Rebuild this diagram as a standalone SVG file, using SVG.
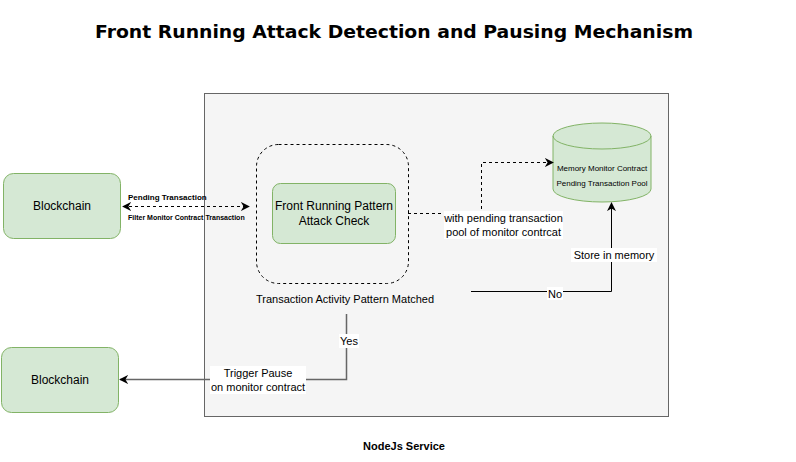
<svg xmlns="http://www.w3.org/2000/svg" width="796" height="462" viewBox="0 0 796 462">
<defs>
<style>
.t{font-family:"Liberation Sans",Arial,sans-serif;fill:#000;}
.green{fill:#d5e8d4;stroke:#82b366;stroke-width:1;}
.lbl{fill:#fff;}
</style>
<marker id="ah" viewBox="0 0 10 10" refX="9" refY="5" markerWidth="9" markerHeight="9" orient="auto-start-reverse" markerUnits="userSpaceOnUse">
<path d="M0,0 L10,5 L0,10 L3,5 Z" fill="#000"/>
</marker>
</defs>
<rect width="796" height="462" fill="#fff"/>
<text x="394" y="38" text-anchor="middle" style="font-family:'DejaVu Sans',Verdana,sans-serif" font-weight="bold" font-size="18" textLength="598" lengthAdjust="spacingAndGlyphs">Front Running Attack Detection and Pausing Mechanism</text>

<g id="nodejs-service">
<rect x="204.5" y="93.5" width="464" height="323" fill="#f5f5f5" stroke="#666"/>
<text class="t" x="404" y="450" text-anchor="middle" font-size="11" font-weight="bold">NodeJs Service</text>
</g>

<g id="blockchain-top">
<rect class="green" x="3.5" y="173.5" width="117" height="65" rx="10"/>
<text class="t" x="62" y="210" text-anchor="middle" font-size="12">Blockchain</text>
</g>

<g id="blockchain-bottom">
<rect class="green" x="1.5" y="347.5" width="117" height="65" rx="10"/>
<text class="t" x="60" y="384" text-anchor="middle" font-size="12">Blockchain</text>
</g>

<g id="pattern-group">
<rect x="256.5" y="144.5" width="152" height="139" rx="22" fill="none" stroke="#000" stroke-dasharray="3,3"/>
</g>

<g id="attack-check">
<rect class="green" x="272.5" y="183.5" width="123" height="60" rx="8"/>
<text class="t" x="334" y="210" text-anchor="middle" font-size="12">Front Running Pattern</text>
<text class="t" x="334" y="225" text-anchor="middle" font-size="12">Attack Check</text>
</g>

<g id="pattern-matched">
<text class="t" x="345" y="303" text-anchor="middle" font-size="11">Transaction Activity Pattern Matched</text>
</g>

<g id="memory-pool">
<path class="green" d="M553,136 A49,13 0 0 1 651,136 L651,189 A49,13 0 0 1 553,189 Z"/>
<path d="M553,136 A49,13 0 0 0 651,136" fill="none" stroke="#82b366"/>
<text class="t" x="602" y="171" text-anchor="middle" font-size="8">Memory Monitor Contract</text>
<text class="t" x="602" y="186" text-anchor="middle" font-size="8">Pending Transaction Pool</text>
</g>

<g id="connectors">
<line x1="123" y1="206.5" x2="249" y2="206.5" stroke="#000" stroke-dasharray="3,3" marker-start="url(#ah)" marker-end="url(#ah)"/>
<text class="t" x="128" y="200" font-size="8" font-weight="bold">Pending Transaction</text>
<text class="t" x="128" y="220" font-size="7" font-weight="bold">Filter Monitor Contract Transaction</text>

<path d="M408,213.5 H481.5 V162.5 H553" fill="none" stroke="#000" stroke-dasharray="3,3" marker-end="url(#ah)"/>
<rect class="lbl" x="444" y="211" width="119" height="28"/>
<text class="t" x="503.5" y="222" text-anchor="middle" font-size="11">with pending transaction</text>
<text class="t" x="503.5" y="236" text-anchor="middle" font-size="11">pool of monitor contrcat</text>

<path d="M471,291.5 H611.5 V203" fill="none" stroke="#000" marker-end="url(#ah)"/>
<rect class="lbl" x="547" y="287" width="16" height="13"/>
<text class="t" x="555" y="298" text-anchor="middle" font-size="11">No</text>
<rect class="lbl" x="571" y="248" width="86" height="14"/>
<text class="t" x="614" y="259" text-anchor="middle" font-size="11">Store in memory</text>

<path d="M346.5,314 V379.5 H120" fill="none" stroke="#666" stroke-width="1.5" marker-end="url(#ah)"/>
<rect class="lbl" x="339" y="334" width="20" height="14"/>
<text class="t" x="349" y="345" text-anchor="middle" font-size="11">Yes</text>
<rect class="lbl" x="210" y="366" width="96" height="28"/>
<text class="t" x="258" y="377" text-anchor="middle" font-size="11">Trigger Pause</text>
<text class="t" x="258" y="391" text-anchor="middle" font-size="11">on monitor contract</text>
</g>
</svg>
